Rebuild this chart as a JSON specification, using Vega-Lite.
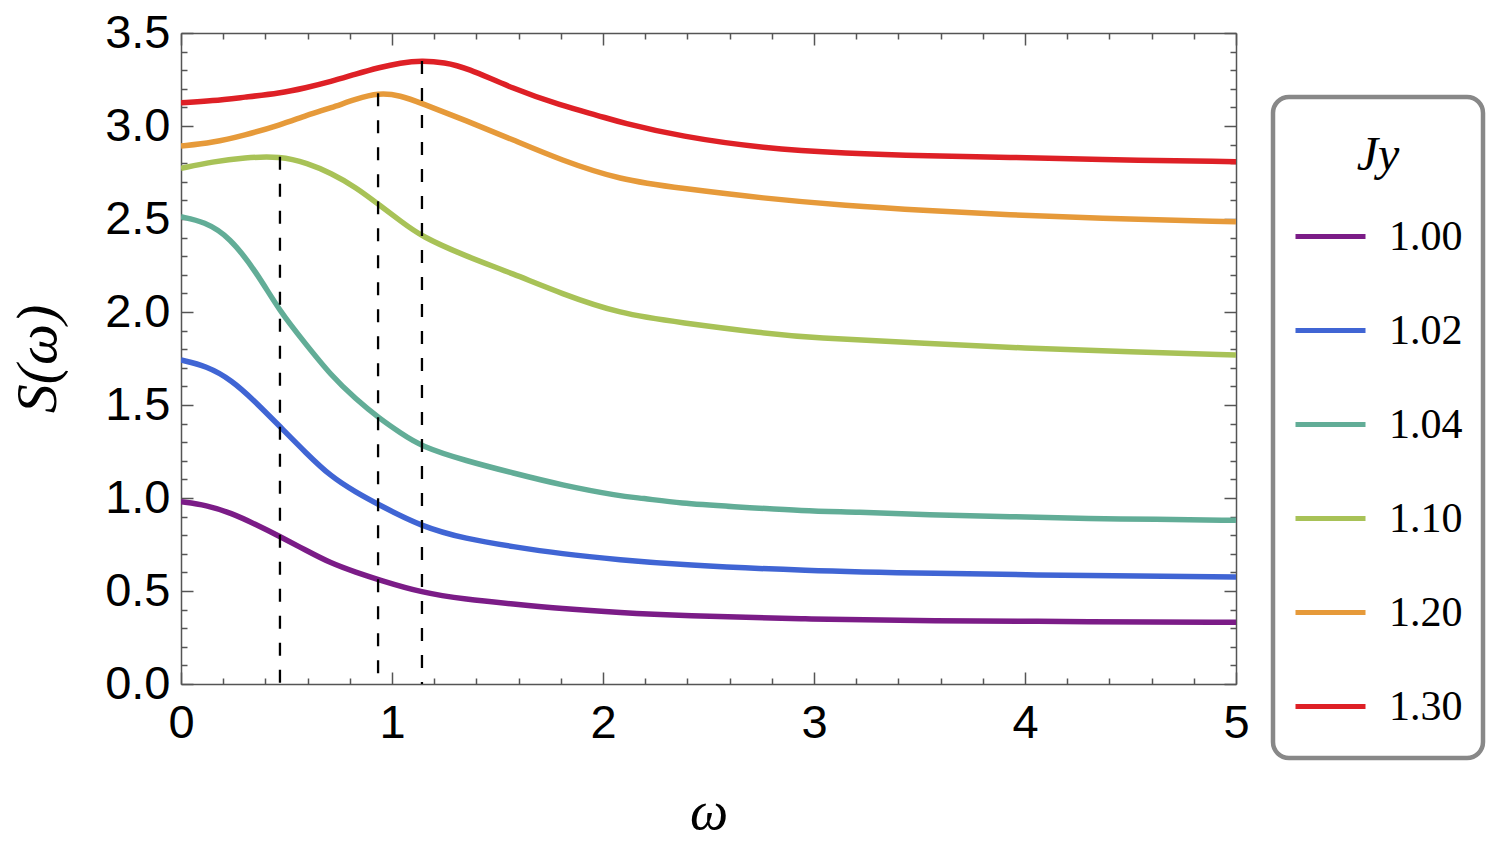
{
  "$schema": "https://vega.github.io/schema/vega-lite/v6.json",
  "autosize": {"type": "none"},
  "width": 1055,
  "height": 651,
  "padding": {"left": 181, "top": 33, "right": 259, "bottom": 174},
  "background": "white",
  "config": {
    "view": {"stroke": null},
    "axis": {
      "grid": false,
      "domainColor": "#555555",
      "domainWidth": 1.5,
      "tickColor": "#555555",
      "tickWidth": 1.5,
      "labelFont": "Liberation Sans",
      "labelFontSize": 47,
      "labelColor": "black",
      "titleFont": "Liberation Serif",
      "titleFontStyle": "italic",
      "titleFontWeight": "normal",
      "titleFontSize": 56,
      "titleColor": "black"
    }
  },
  "datasets": {
    "curves": [
      {"w": 0, "s": 0.98, "J": "1.00"}, {"w": 0.12, "s": 0.962, "J": "1.00"}, {"w": 0.24, "s": 0.918, "J": "1.00"}, {"w": 0.35, "s": 0.86, "J": "1.00"}, {"w": 0.47, "s": 0.792, "J": "1.00"}, {"w": 0.59, "s": 0.72, "J": "1.00"}, {"w": 0.71, "s": 0.649, "J": "1.00"}, {"w": 0.83, "s": 0.6, "J": "1.00"}, {"w": 0.94, "s": 0.559, "J": "1.00"}, {"w": 1.14, "s": 0.491, "J": "1.00"}, {"w": 1.35, "s": 0.455, "J": "1.00"}, {"w": 1.575, "s": 0.43, "J": "1.00"}, {"w": 1.8, "s": 0.405, "J": "1.00"}, {"w": 2.08, "s": 0.383, "J": "1.00"}, {"w": 2.37, "s": 0.367, "J": "1.00"}, {"w": 2.96, "s": 0.349, "J": "1.00"}, {"w": 3.54, "s": 0.34, "J": "1.00"}, {"w": 4.32, "s": 0.335, "J": "1.00"}, {"w": 5, "s": 0.332, "J": "1.00"},
      {"w": 0, "s": 1.742, "J": "1.02"}, {"w": 0.12, "s": 1.71, "J": "1.02"}, {"w": 0.24, "s": 1.634, "J": "1.02"}, {"w": 0.35, "s": 1.52, "J": "1.02"}, {"w": 0.47, "s": 1.383, "J": "1.02"}, {"w": 0.59, "s": 1.245, "J": "1.02"}, {"w": 0.71, "s": 1.115, "J": "1.02"}, {"w": 0.83, "s": 1.03, "J": "1.02"}, {"w": 0.94, "s": 0.962, "J": "1.02"}, {"w": 1.14, "s": 0.846, "J": "1.02"}, {"w": 1.35, "s": 0.78, "J": "1.02"}, {"w": 1.575, "s": 0.738, "J": "1.02"}, {"w": 1.8, "s": 0.7, "J": "1.02"}, {"w": 2.08, "s": 0.667, "J": "1.02"}, {"w": 2.37, "s": 0.64, "J": "1.02"}, {"w": 2.96, "s": 0.609, "J": "1.02"}, {"w": 3.54, "s": 0.595, "J": "1.02"}, {"w": 4.32, "s": 0.582, "J": "1.02"}, {"w": 5, "s": 0.575, "J": "1.02"},
      {"w": 0, "s": 2.512, "J": "1.04"}, {"w": 0.11, "s": 2.486, "J": "1.04"}, {"w": 0.23, "s": 2.405, "J": "1.04"}, {"w": 0.36, "s": 2.21, "J": "1.04"}, {"w": 0.47, "s": 2.0, "J": "1.04"}, {"w": 0.59, "s": 1.83, "J": "1.04"}, {"w": 0.71, "s": 1.66, "J": "1.04"}, {"w": 0.83, "s": 1.53, "J": "1.04"}, {"w": 0.94, "s": 1.428, "J": "1.04"}, {"w": 1.04, "s": 1.35, "J": "1.04"}, {"w": 1.14, "s": 1.276, "J": "1.04"}, {"w": 1.35, "s": 1.2, "J": "1.04"}, {"w": 1.575, "s": 1.134, "J": "1.04"}, {"w": 1.8, "s": 1.07, "J": "1.04"}, {"w": 2.08, "s": 1.01, "J": "1.04"}, {"w": 2.18, "s": 1.0, "J": "1.04"}, {"w": 2.37, "s": 0.971, "J": "1.04"}, {"w": 2.6, "s": 0.955, "J": "1.04"}, {"w": 2.96, "s": 0.93, "J": "1.04"}, {"w": 3.2, "s": 0.925, "J": "1.04"}, {"w": 3.54, "s": 0.909, "J": "1.04"}, {"w": 3.93, "s": 0.9, "J": "1.04"}, {"w": 4.32, "s": 0.889, "J": "1.04"}, {"w": 4.6, "s": 0.886, "J": "1.04"}, {"w": 5, "s": 0.88, "J": "1.04"},
      {"w": 0, "s": 2.772, "J": "1.10"}, {"w": 0.15, "s": 2.808, "J": "1.10"}, {"w": 0.3, "s": 2.83, "J": "1.10"}, {"w": 0.47, "s": 2.838, "J": "1.10"}, {"w": 0.6, "s": 2.8, "J": "1.10"}, {"w": 0.71, "s": 2.747, "J": "1.10"}, {"w": 0.83, "s": 2.67, "J": "1.10"}, {"w": 0.94, "s": 2.575, "J": "1.10"}, {"w": 1.04, "s": 2.49, "J": "1.10"}, {"w": 1.14, "s": 2.405, "J": "1.10"}, {"w": 1.35, "s": 2.3, "J": "1.10"}, {"w": 1.575, "s": 2.205, "J": "1.10"}, {"w": 1.8, "s": 2.1, "J": "1.10"}, {"w": 2.08, "s": 1.99, "J": "1.10"}, {"w": 2.37, "s": 1.943, "J": "1.10"}, {"w": 2.76, "s": 1.886, "J": "1.10"}, {"w": 3.0, "s": 1.86, "J": "1.10"}, {"w": 3.5, "s": 1.833, "J": "1.10"}, {"w": 4.0, "s": 1.805, "J": "1.10"}, {"w": 4.5, "s": 1.785, "J": "1.10"}, {"w": 5, "s": 1.769, "J": "1.10"},
      {"w": 0, "s": 2.892, "J": "1.20"}, {"w": 0.15, "s": 2.91, "J": "1.20"}, {"w": 0.3, "s": 2.95, "J": "1.20"}, {"w": 0.47, "s": 3.005, "J": "1.20"}, {"w": 0.6, "s": 3.06, "J": "1.20"}, {"w": 0.71, "s": 3.097, "J": "1.20"}, {"w": 0.83, "s": 3.145, "J": "1.20"}, {"w": 0.935, "s": 3.178, "J": "1.20"}, {"w": 1.04, "s": 3.165, "J": "1.20"}, {"w": 1.14, "s": 3.122, "J": "1.20"}, {"w": 1.35, "s": 3.03, "J": "1.20"}, {"w": 1.575, "s": 2.925, "J": "1.20"}, {"w": 1.8, "s": 2.817, "J": "1.20"}, {"w": 2.08, "s": 2.71, "J": "1.20"}, {"w": 2.37, "s": 2.665, "J": "1.20"}, {"w": 2.76, "s": 2.611, "J": "1.20"}, {"w": 3.15, "s": 2.572, "J": "1.20"}, {"w": 3.54, "s": 2.545, "J": "1.20"}, {"w": 3.93, "s": 2.522, "J": "1.20"}, {"w": 4.32, "s": 2.504, "J": "1.20"}, {"w": 5, "s": 2.485, "J": "1.20"},
      {"w": 0, "s": 3.125, "J": "1.30"}, {"w": 0.15, "s": 3.135, "J": "1.30"}, {"w": 0.3, "s": 3.155, "J": "1.30"}, {"w": 0.47, "s": 3.176, "J": "1.30"}, {"w": 0.59, "s": 3.205, "J": "1.30"}, {"w": 0.71, "s": 3.238, "J": "1.30"}, {"w": 0.83, "s": 3.28, "J": "1.30"}, {"w": 0.94, "s": 3.315, "J": "1.30"}, {"w": 1.04, "s": 3.34, "J": "1.30"}, {"w": 1.14, "s": 3.352, "J": "1.30"}, {"w": 1.25, "s": 3.342, "J": "1.30"}, {"w": 1.35, "s": 3.315, "J": "1.30"}, {"w": 1.575, "s": 3.2, "J": "1.30"}, {"w": 1.8, "s": 3.11, "J": "1.30"}, {"w": 1.986, "s": 3.054, "J": "1.30"}, {"w": 2.08, "s": 3.02, "J": "1.30"}, {"w": 2.37, "s": 2.943, "J": "1.30"}, {"w": 2.76, "s": 2.88, "J": "1.30"}, {"w": 3.15, "s": 2.853, "J": "1.30"}, {"w": 3.54, "s": 2.839, "J": "1.30"}, {"w": 3.93, "s": 2.832, "J": "1.30"}, {"w": 4.32, "s": 2.82, "J": "1.30"}, {"w": 5, "s": 2.808, "J": "1.30"}
    ],
    "peaks": [
      {"w": 0.469, "top": 2.835},
      {"w": 0.934, "top": 3.176},
      {"w": 1.142, "top": 3.35}
    ]
  },
  "layer": [
    {
      "data": {"name": "curves"},
      "mark": {"type": "line", "strokeWidth": 5.5, "interpolate": "basis", "clip": true},
      "encoding": {
        "x": {"field": "w", "type": "quantitative", "scale": {"domain": [0, 5], "nice": false},
          "axis": {"orient": "bottom", "title": "ω", "titleFontSize": 54, "values": [0, 1, 2, 3, 4, 5], "format": "d", "tickSize": -12, "labelPadding": 28, "titlePadding": 39, "labelFlush": false}},
        "y": {"field": "s", "type": "quantitative", "scale": {"domain": [0, 3.5], "nice": false},
          "axis": {"orient": "left", "title": "S(ω)", "titleFontSize": 58, "values": [0, 0.5, 1, 1.5, 2, 2.5, 3, 3.5], "format": ".1f", "tickSize": -12, "labelPadding": 23, "titlePadding": 37, "labelFlush": false}},
        "color": {"field": "J", "type": "nominal",
          "scale": {"domain": ["1.00", "1.02", "1.04", "1.10", "1.20", "1.30"], "range": ["#7b1c87", "#4065d4", "#62ad97", "#a8c257", "#e69a3a", "#de2026"]},
          "legend": {
            "orient": "none", "legendX": 1092, "legendY": 64,
            "title": ["", "Jy"], "titleLineHeight": 15, "titleFont": "Liberation Serif", "titleFontStyle": "italic", "titleFontWeight": "normal", "titleFontSize": 48, "titleColor": "black", "titleAnchor": "middle", "titlePadding": 25,
            "labelFont": "Liberation Serif", "labelFontSize": 42, "labelColor": "black", "labelOffset": 21,
            "labelExpr": "datum.label + '\u00a0\u00a0'",
            "symbolType": "stroke", "symbolSize": 4900, "symbolStrokeWidth": 5,
            "rowPadding": 31, "clipHeight": 63, "padding": 20,
            "strokeColor": "#888888", "cornerRadius": 16,
            "encode": {"legend": {"update": {"strokeWidth": {"value": 4.5}}}}
          }}
      }
    },
    {
      "data": {"name": "peaks"},
      "mark": {"type": "rule", "color": "black", "strokeWidth": 2.3, "strokeDash": [13, 14]},
      "encoding": {
        "x": {"field": "w", "type": "quantitative", "axis": {"orient": "bottom", "title": null, "labels": false, "domain": false, "values": [0.2, 0.4, 0.6, 0.8, 1.2, 1.4, 1.6, 1.8, 2.2, 2.4, 2.6, 2.8, 3.2, 3.4, 3.6, 3.8, 4.2, 4.4, 4.6, 4.8], "tickSize": -6}},
        "y": {"field": "top", "type": "quantitative", "axis": {"orient": "left", "title": null, "labels": false, "domain": false, "values": [0.1, 0.2, 0.3, 0.4, 0.6, 0.7, 0.8, 0.9, 1.1, 1.2, 1.3, 1.4, 1.6, 1.7, 1.8, 1.9, 2.1, 2.2, 2.3, 2.4, 2.6, 2.7, 2.8, 2.9, 3.1, 3.2, 3.3, 3.4], "tickSize": -6}},
        "y2": {"datum": 0}
      }
    },
    {
      "data": {"name": "peaks"},
      "mark": {"type": "rule", "opacity": 0},
      "encoding": {
        "x": {"field": "w", "type": "quantitative", "axis": {"orient": "top", "title": null, "labels": false, "values": [0, 1, 2, 3, 4, 5], "tickSize": -12}},
        "y": {"field": "top", "type": "quantitative", "axis": {"orient": "right", "title": null, "labels": false, "values": [0, 0.5, 1, 1.5, 2, 2.5, 3, 3.5], "tickSize": -12}}
      }
    },
    {
      "data": {"name": "peaks"},
      "mark": {"type": "rule", "opacity": 0},
      "encoding": {
        "x": {"field": "w", "type": "quantitative", "axis": {"orient": "top", "title": null, "labels": false, "domain": false, "values": [0.2, 0.4, 0.6, 0.8, 1.2, 1.4, 1.6, 1.8, 2.2, 2.4, 2.6, 2.8, 3.2, 3.4, 3.6, 3.8, 4.2, 4.4, 4.6, 4.8], "tickSize": -6}},
        "y": {"field": "top", "type": "quantitative", "axis": {"orient": "right", "title": null, "labels": false, "domain": false, "values": [0.1, 0.2, 0.3, 0.4, 0.6, 0.7, 0.8, 0.9, 1.1, 1.2, 1.3, 1.4, 1.6, 1.7, 1.8, 1.9, 2.1, 2.2, 2.3, 2.4, 2.6, 2.7, 2.8, 2.9, 3.1, 3.2, 3.3, 3.4], "tickSize": -6}}
      }
    }
  ],
  "resolve": {"axis": {"x": "independent", "y": "independent"}}
}
